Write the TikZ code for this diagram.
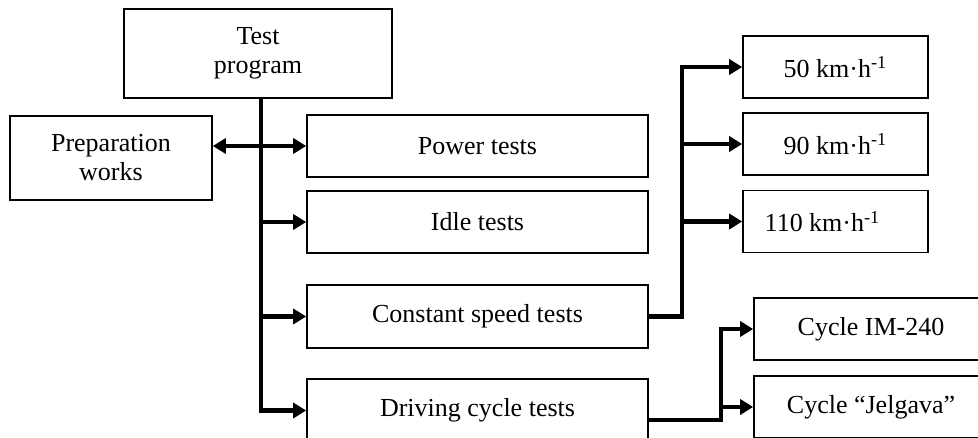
\documentclass[tikz,border=0pt]{standalone}
\usepackage{fontspec}
\setmainfont{Liberation Serif}
\usetikzlibrary{arrows.meta,calc}
\begin{document}
\begin{tikzpicture}[x=0.5pt,y=-0.5pt,
  box/.style={draw, line width=0.8pt, inner sep=0pt, align=center,
              font=\fontsize{13}{14.5}\selectfont},
  wide/.style={minimum width=170.5pt, minimum height=31pt},
  speed/.style={minimum width=92.5pt, minimum height=31pt},
  cyc/.style={minimum width=117pt, minimum height=31pt},
  conn/.style={line width=2.3pt, -{Triangle[length=6.5pt,width=7.5pt]}},
  dconn/.style={line width=2.3pt, {Triangle[length=6.5pt,width=7.5pt]}-{Triangle[length=6.5pt,width=7.5pt]}}]
\useasboundingbox (0,0) rectangle (978,438);
\clip (0,0) rectangle (978,438);
% boxes
\node[box, minimum width=134pt, minimum height=44.5pt] (test) at (258,53.5) {Test\\program};
\node[box, minimum width=101pt, minimum height=42pt] (prep) at (111,158) {Preparation\\works};
\node[box, wide] (power) at (477.5,146) {Power tests};
\node[box, wide] (idle) at (477.5,222) {Idle tests};
\node[box, wide, minimum height=31.5pt] (const) at (477.5,316.5) {Constant speed tests};
\node[box, wide, minimum height=31.5pt] (drive) at (477.5,410.5) {Driving cycle tests};
\node[box, speed] (s50) at (835.5,67) {50 km·h\textsuperscript{-1}};
\node[box, speed] (s90) at (835.5,144) {90 km·h\textsuperscript{-1}};
\node[box, speed] (s110) at (835.5,221.5) {110 km·h\textsuperscript{-1}\hspace*{13pt}};
\node[box, cyc] (im) at (871,329) {Cycle IM-240};
\node[box, cyc] (jel) at (871,407) {Cycle “Jelgava”};
% helper x positions
\coordinate (tx) at (261,0);
\coordinate (rx) at (682,0);
\coordinate (dx) at (721,0);
% trunk
\draw[conn] (test.south -| tx) |- (drive.west);
\draw[conn] (tx |- idle.west) -- (idle.west);
\draw[conn] (tx |- const.west) -- (const.west);
\draw[dconn] (prep.east |- power.west) -- (power.west);
% constant speed branch
\draw[conn] (const.east) -| (rx |- s50.west) -- (s50.west);
\draw[conn] (rx |- s90.west) -- (s90.west);
\draw[conn] (rx |- s110.west) -- (s110.west);
% driving cycle branch
\draw[conn] ($(drive.east)+(0,9.5)$) -| (dx |- im.west) -- (im.west);
\draw[conn] (dx |- jel.west) -- (jel.west);
\end{tikzpicture}
\end{document}
